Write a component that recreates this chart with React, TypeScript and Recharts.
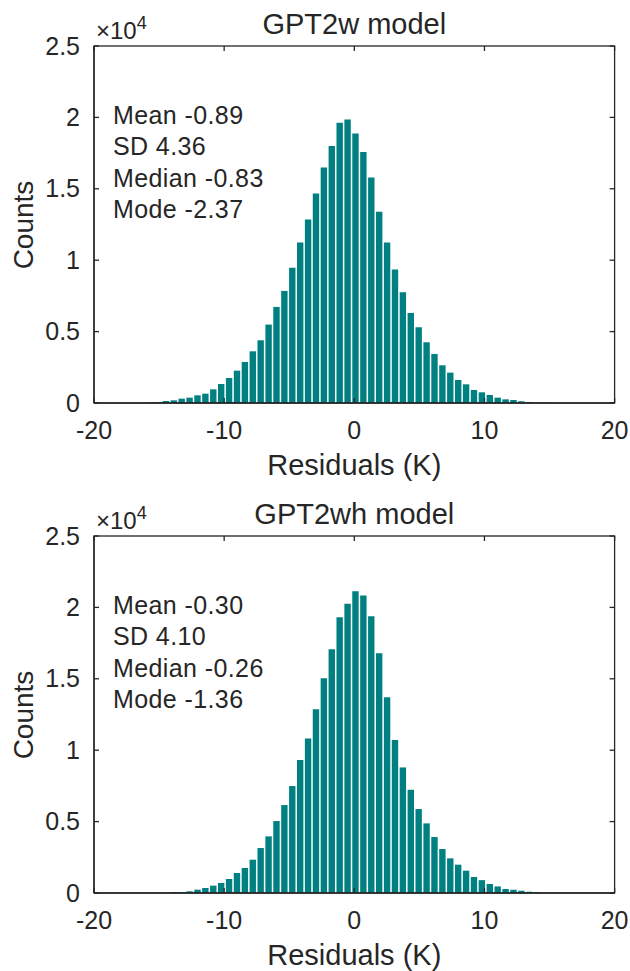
import { BarChart, Bar, XAxis, YAxis } from "recharts";

// histogram bins: first bin centre and width in K, counts
const binWidth = 0.607;
const gpt2wFirstBin = -15.71;
const gpt2whFirstBin = -13.89;

const gpt2wCounts = [
    47, 70, 140, 187, 304, 374, 537, 654, 958, 1332,
    1752, 2266, 2874, 3621, 4393, 5491, 6729, 7850, 9463, 11238,
    12850, 14673, 16495, 17991, 19626, 19860, 18879, 17570, 15794, 13388,
    11238, 9346, 7757, 6308, 5304, 4252, 3435, 2640, 2126, 1612,
    1308, 911, 748, 561, 374, 257, 210, 117, 70, 23, 23,
];

const gpt2whCounts = [
    70, 70, 117, 233, 350, 513, 700, 980, 1400, 1750,
    2333, 3149, 3966, 5039, 6158, 7488, 9307, 10824, 12876, 15046,
    17075, 19314, 20247, 21134, 20831, 19384, 16795, 13716, 10707, 8794,
    7231, 5878, 4875, 3919, 3079, 2426, 1983, 1563, 1120, 900,
    630, 460, 280, 233, 163, 93, 47,
];

const gpt2wStats = ["Mean -0.89", "SD 4.36", "Median -0.83", "Mode -2.37"];
const gpt2whStats = ["Mean -0.30", "SD 4.10", "Median -0.26", "Mode -1.36"];

const xTicks = [-20, -10, 0, 10, 20];
const yTicks = [0, 5000, 10000, 15000, 20000, 25000];

const FONT = '"Liberation Sans", Arial, Helvetica, sans-serif';
const INK = "#262626";
const TEAL = "#008080";
const TICK_LEN = 5;
const LINE_W = 1.3;

// plot box, px (matches the chart margins below)
const BOX_L = 94;
const BOX_T = 46;
const BOX_W = 520.6;
const BOX_H = 357;

const fmtY = (v: number) => String(v / 10000);

function BottomTick({ x, y, payload }: any) {
    return (
        <text x={x} y={y + 36} textAnchor="middle" fontSize={25} fill={INK} fontFamily={FONT}>
            {payload.value}
        </text>
    );
}

function LeftTick({ x, y, payload }: any) {
    return (
        <text x={x - 14} y={y + 8.5} textAnchor="end" fontSize={25} fill={INK} fontFamily={FONT}>
            {fmtY(payload.value)}
        </text>
    );
}

// MATLAB-style box with inward ticks on all four sides
function AxesBox() {
    const px = (v: number) => BOX_L + ((v + 20) / 40) * BOX_W;
    const py = (v: number) => BOX_T + BOX_H - (v / 25000) * BOX_H;
    const r = BOX_L + BOX_W;
    const b = BOX_T + BOX_H;
    return (
        <g stroke={INK} strokeWidth={LINE_W} fill="none">
            <rect x={BOX_L} y={BOX_T} width={BOX_W} height={BOX_H} />
            {xTicks.map((v) => (
                <g key={`x${v}`}>
                    <line x1={px(v)} y1={b} x2={px(v)} y2={b - TICK_LEN} />
                    <line x1={px(v)} y1={BOX_T} x2={px(v)} y2={BOX_T + TICK_LEN} />
                </g>
            ))}
            {yTicks.map((v) => (
                <g key={`y${v}`}>
                    <line x1={BOX_L} y1={py(v)} x2={BOX_L + TICK_LEN} y2={py(v)} />
                    <line x1={r} y1={py(v)} x2={r - TICK_LEN} y2={py(v)} />
                </g>
            ))}
        </g>
    );
}

function HistPanel({ title, stats, counts, firstBin, top }: {
    title: string;
    stats: string[];
    counts: number[];
    firstBin: number;
    top: number;
}) {
    const data = counts.map((c, i) => ({ x: +(firstBin + i * binWidth).toFixed(3), count: c }));
    const cx = BOX_L + BOX_W / 2;

    return (
        <div style={{ position: "absolute", left: 0, top, width: 630, height: 490 }}>
            <BarChart
                width={630}
                height={490}
                data={data}
                margin={{ top: BOX_T, right: 630 - BOX_L - BOX_W, bottom: 47, left: 0 }}
            >
                <XAxis
                    dataKey="x"
                    type="number"
                    domain={[-20, 20]}
                    ticks={xTicks}
                    allowDataOverflow
                    height={40}
                    tickSize={0}
                    tickMargin={0}
                    tickLine={false}
                    axisLine={{ stroke: INK, strokeWidth: LINE_W }}
                    tick={<BottomTick />}
                    interval={0}
                />
                <YAxis
                    type="number"
                    domain={[0, 25000]}
                    ticks={yTicks}
                    allowDataOverflow
                    width={BOX_L}
                    tickSize={0}
                    tickMargin={0}
                    tickLine={false}
                    axisLine={{ stroke: INK, strokeWidth: LINE_W }}
                    tick={<LeftTick />}
                    interval={0}
                />
                <Bar
                    dataKey="count"
                    fill={TEAL}
                    barSize={6.4}
                    isAnimationActive={false}
                />
            </BarChart>
            <svg
                width={630}
                height={490}
                style={{ position: "absolute", left: 0, top: 0, pointerEvents: "none" }}
            >
                <AxesBox />
                <g fontFamily={FONT} fill={INK}>
                    <text x={cx} y={34} textAnchor="middle" fontSize={29}>{title}</text>
                    <text x={96} y={39} fontSize={24}>
                        ×10<tspan dy={-10} fontSize={18}>4</tspan>
                    </text>
                    {stats.map((s, i) => (
                        <text key={s} x={113} y={124 + i * 31.3} fontSize={25} letterSpacing={0.4}>{s}</text>
                    ))}
                    <text x={cx} y={475} textAnchor="middle" fontSize={29}>Residuals (K)</text>
                    <text x={33} y={225} textAnchor="middle" fontSize={28} transform="rotate(-90 33 225)">Counts</text>
                </g>
            </svg>
        </div>
    );
}

export default function App() {
    return (
        <div style={{ position: "absolute", left: 0, top: 0, width: 630, height: 971, background: "#fff", overflow: "hidden" }}>
            <HistPanel title="GPT2w model" stats={gpt2wStats} counts={gpt2wCounts} firstBin={gpt2wFirstBin} top={0} />
            <HistPanel title="GPT2wh model" stats={gpt2whStats} counts={gpt2whCounts} firstBin={gpt2whFirstBin} top={490.3} />
        </div>
    );
}
